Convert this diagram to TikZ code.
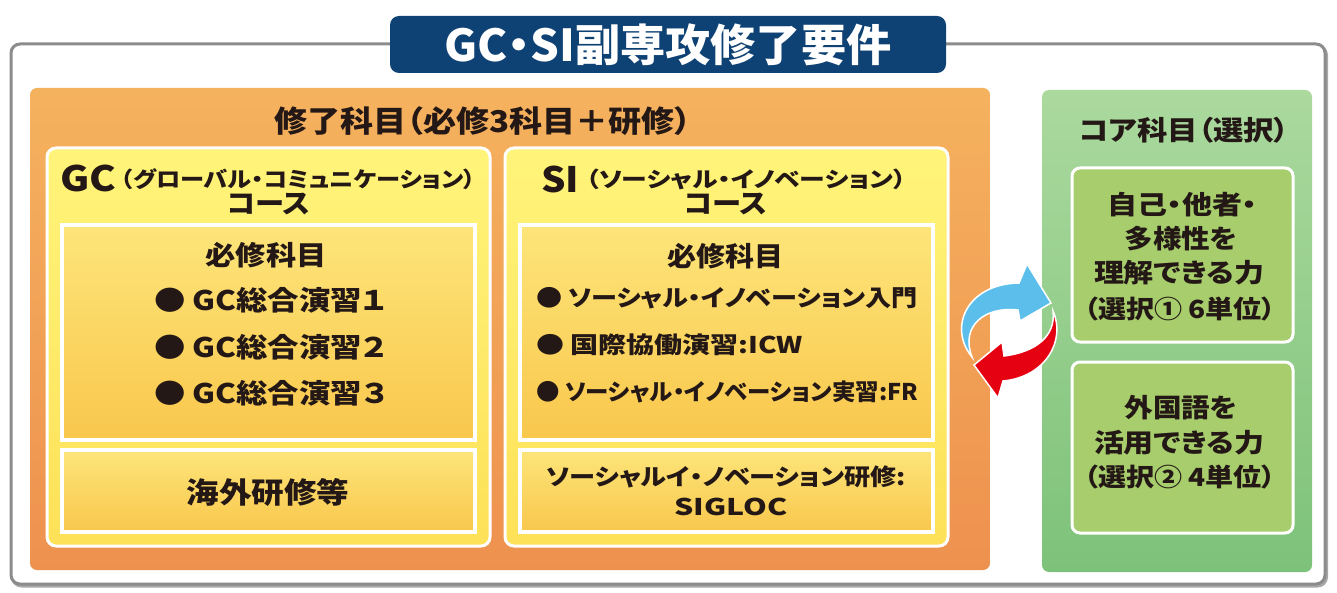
\documentclass[tikz,border=0pt]{standalone}
\usepackage{fontspec}
\usepackage{graphicx}
\setmainfont{Noto Sans CJK JP}[RawFeature=+palt]
\definecolor{navy}{HTML}{0F4274}
\definecolor{greyline}{HTML}{8C8C8C}
\definecolor{greyshadow}{HTML}{A8A8A8}
\definecolor{orangeT}{HTML}{F5B25E}
\definecolor{orangeB}{HTML}{EE914F}
\definecolor{yelT}{HTML}{FFF47A}
\definecolor{yelB}{HTML}{FDE158}
\definecolor{inT}{HTML}{FDE57A}
\definecolor{inB}{HTML}{F9C74C}
\definecolor{grnT}{HTML}{ABD99E}
\definecolor{grnB}{HTML}{7DC27A}
\definecolor{grnIn}{HTML}{A7CD6C}
\definecolor{ink}{HTML}{231815}
\definecolor{arrblue}{HTML}{5BBEEB}
\definecolor{arrred}{HTML}{E50012}
% text at a given size, scaled horizontally to a given width
\newcommand\W[3]{{\fontsize{#1}{#1}\selectfont\bfseries\resizebox{#2pt}{\height}{#3}}}
\tikzset{
  box/.style={rectangle, inner sep=0pt, outer sep=0pt},
  txt/.style={inner sep=0pt, outer sep=0pt, text=ink},
}
\begin{document}
\begin{tikzpicture}[x=1pt,y=-1pt]
\useasboundingbox (0,0) rectangle (1337,593);
% outer frame with a light shadow
\node[box, draw=greyshadow, line width=3pt, rounded corners=9pt,
  minimum width=1314pt, minimum height=540pt] (frameshadow) at (669.5,316) {};
\node[box, draw=greyline, line width=3pt, fill=white, rounded corners=9pt,
  minimum width=1314pt, minimum height=540pt] (frame) at (668,314) {};
% title
\node[box, fill=navy, rounded corners=9pt, minimum width=556pt, minimum height=57pt] (titlebox) at (668,44.5) {};
\node[txt, text=white] (title) at (668,45) {\W{44}{447}{GC・SI副専攻修了要件}};
% orange area
\node[box, top color=orangeT, bottom color=orangeB, rounded corners=7pt,
  minimum width=960pt, minimum height=482pt] (orange) at (510,329) {};
\node[txt] (otitle) at (483,121) {\W{30}{417}{修了科目（必修3科目＋研修）}};
% GC course
\node[box, top color=yelT, bottom color=yelB, draw=white, line width=3pt, rounded corners=9pt,
  minimum width=443pt, minimum height=398pt] (gc) at (268.5,347) {};
\node[box, top color=inT, bottom color=inB, draw=white, line width=4pt,
  minimum width=413pt, minimum height=215pt] (gcreq) at (268.5,332.5) {};
\node[box, top color=inT, bottom color=inB, draw=white, line width=4pt,
  minimum width=413pt, minimum height=82pt] (gcabroad) at (268.5,491) {};
\node[txt, anchor=west] (gch1a) at (60,178) {\W{35}{56}{GC}};
\node[txt, anchor=west] (gch1b) at (121,179) {\W{21.5}{355}{（グローバル・コミュニケーション）}};
\node[txt] (gch2) at (268.5,204) {\W{27}{83}{コース}};
\node[txt] (gcreqt) at (266,255) {\W{27}{121}{必修科目}};
\node[txt, anchor=west] (gci1) at (154,300) {\W{27}{232}{● GC総合演習１}};
\node[txt, anchor=west] (gci2) at (154,347) {\W{27}{232}{● GC総合演習２}};
\node[txt, anchor=west] (gci3) at (154,393) {\W{27}{232}{● GC総合演習３}};
\node[txt] (gcab) at (268,492) {\W{29}{163}{海外研修等}};
% SI course
\node[box, top color=yelT, bottom color=yelB, draw=white, line width=3pt, rounded corners=9pt,
  minimum width=443pt, minimum height=398pt] (si) at (726.5,347) {};
\node[box, top color=inT, bottom color=inB, draw=white, line width=4pt,
  minimum width=413pt, minimum height=215pt] (sireq) at (726.5,332.5) {};
\node[box, top color=inT, bottom color=inB, draw=white, line width=4pt,
  minimum width=413pt, minimum height=82pt] (siloc) at (726.5,491) {};
\node[txt, anchor=west] (sih1a) at (541,179) {\W{35}{38}{SI}};
\node[txt, anchor=west] (sih1b) at (586,179) {\W{21.5}{320}{（ソーシャル・イノベーション）}};
\node[txt] (sih2) at (726,204) {\W{27}{83}{コース}};
\node[txt] (sireqt) at (725,256) {\W{27}{116}{必修科目}};
\node[txt, anchor=west] (sii1) at (536,298) {\W{23}{382}{● ソーシャル・イノベーション入門}};
\node[txt, anchor=west] (sii2) at (536,345) {\W{23}{267}{● 国際協働演習:ICW}};
\node[txt, anchor=west] (sii3) at (536,392) {\W{23}{382}{● ソーシャル・イノベーション実習:FR}};
\node[txt] (silocA) at (726,477) {\W{23}{360}{ソーシャルイ・ノベーション研修:}};
\node[txt] (silocB) at (731,507) {\W{23}{113}{SIGLOC}};
% green core area
\node[box, top color=grnT, bottom color=grnB, rounded corners=7pt,
  minimum width=270pt, minimum height=482pt] (core) at (1177,331) {};
\node[txt] (coret) at (1184,130) {\W{27}{210}{コア科目（選択）}};
\node[box, fill=grnIn, draw=white, line width=3pt, rounded corners=8pt,
  minimum width=221pt, minimum height=174pt] (c1) at (1182.5,255) {};
\node[box, fill=grnIn, draw=white, line width=3pt, rounded corners=8pt,
  minimum width=221pt, minimum height=171pt] (c2) at (1182.5,447.5) {};
\node[txt] (c1a) at (1182,205) {\W{26}{150}{自己・他者・}};
\node[txt] (c1b) at (1181,239) {\W{26}{113}{多様性を}};
\node[txt] (c1c) at (1179,273) {\W{26}{170}{理解できる力}};
\node[txt] (c1d) at (1180,309) {\W{25}{192}{（選択① 6単位）}};
\node[txt] (c2a) at (1181,408) {\W{26}{113}{外国語を}};
\node[txt] (c2b) at (1179,443) {\W{26}{170}{活用できる力}};
\node[txt] (c2c) at (1180,477) {\W{25}{192}{（選択② 4単位）}};
% cycle arrows
\fill[arrblue, draw=white, line width=1.5pt, line join=miter]
  (972,357) .. controls (948,328) and (966,284) .. (1019,283)
  -- (1027,264) -- (1051,303) -- (1020,321) -- (1018,310)
  .. controls (985,306) and (960,326) .. (972,357) -- cycle;
\fill[arrred, draw=white, line width=1.5pt, line join=miter]
  (1053,311) .. controls (1066,340) and (1046,377) .. (1003,381)
  -- (998,398) -- (974,365) -- (1002,342) -- (1004,356)
  .. controls (1036,352) and (1056,336) .. (1053,311) -- cycle;
\end{tikzpicture}
\end{document}
